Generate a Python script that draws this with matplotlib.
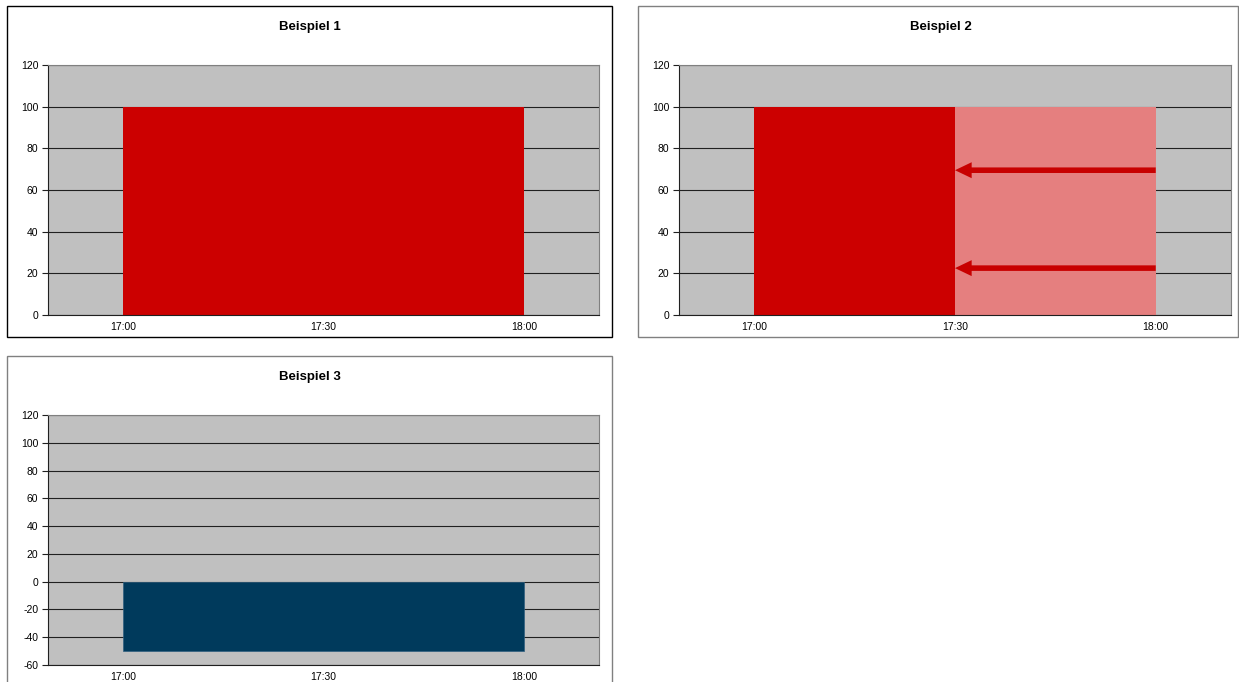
import matplotlib
matplotlib.use("Agg")
import matplotlib.pyplot as plt
from matplotlib.patches import Rectangle
from matplotlib.ticker import FixedLocator, FuncFormatter

# Data (time in decimal hours)
titles = ["Beispiel 1", "Beispiel 2", "Beispiel 3"]
x_ticks = [17.0, 17.5, 18.0]

# Beispiel 1: one block 17:00-18:00
b1_start = [17.0]
b1_width = [1.0]
b1_value = [100]

# Beispiel 2: block shrinks to 17:00-17:30, remainder shown pale
b2_start = [17.0, 17.5]
b2_width = [0.5, 0.5]
b2_value = [100, 100]
b2_arrow_y = [69.5, 22.5]
b2_arrow_from = 18.0
b2_arrow_to = 17.5

# Beispiel 3: negative block
b3_start = [17.0]
b3_width = [1.0]
b3_value = [-50]

plt.rcParams['font.family'] = ['Liberation Sans', 'DejaVu Sans']
plt.rcParams['axes.unicode_minus'] = False

W, H = 1239, 682
fig = plt.figure(figsize=(W / 100, H / 100), dpi=100)


def fx(px):
    return px / W


def fy(py):
    return 1 - py / H


def frame(x0, y0, x1, y1, color):
    fig.patches.append(Rectangle((fx(x0), fy(y1)), fx(x1 - x0), (y1 - y0) / H,
                                 transform=fig.transFigure, fill=False,
                                 edgecolor=color, linewidth=1.0, zorder=0))


def make_axes(x0, y0, x1, y1, ylim, ystep):
    ax = fig.add_axes([fx(x0), fy(y1), fx(x1 - x0), (y1 - y0) / H])
    ax.set_facecolor('#C0C0C0')
    ax.set_xlim(16.8125, 18.1875)
    ax.set_ylim(*ylim)
    ax.yaxis.set_major_locator(FixedLocator(list(range(ylim[0], ylim[1] + 1, ystep))))
    ax.xaxis.set_major_locator(FixedLocator(x_ticks))
    ax.xaxis.set_major_formatter(FuncFormatter(
        lambda v, p: f"{int(v):02d}:{int(round((v % 1) * 60)):02d}"))
    ax.grid(axis='y', color='#202020', linewidth=0.8)
    ax.set_axisbelow(True)
    ax.tick_params(axis='y', length=4, width=0.8, color='#202020',
                   labelsize=7.5, pad=3)
    ax.tick_params(axis='x', length=0, labelsize=7.5, pad=5)
    for s in ['top', 'right']:
        ax.spines[s].set_color('#808080')
    for s in ['left', 'bottom']:
        ax.spines[s].set_color('#202020')
    for s in ax.spines.values():
        s.set_linewidth(0.8)
    return ax


# Panel frames and titles
frame(7, 6, 612, 337, '#000000')
frame(638, 6, 1238, 337, '#808080')
frame(7, 356, 612, 690, '#808080')
fig.text(fx(310), fy(27), titles[0], ha='center', va='center',
         fontsize=9.5, fontweight='bold')
fig.text(fx(941), fy(27), titles[1], ha='center', va='center',
         fontsize=9.5, fontweight='bold')
fig.text(fx(310), fy(377), titles[2], ha='center', va='center',
         fontsize=9.5, fontweight='bold')

# Beispiel 1
ax1 = make_axes(48, 65, 599, 315, (0, 120), 20)
ax1.bar(b1_start, b1_value, width=b1_width, align='edge', color='#CC0000',
        linewidth=0)

# Beispiel 2
ax2 = make_axes(679, 65, 1231, 315, (0, 120), 20)
ax2.bar(b2_start, b2_value, width=b2_width, align='edge',
        color=['#CC0000', '#E57F7F'], linewidth=0)
for yv in b2_arrow_y:
    ax2.annotate('', xy=(b2_arrow_to, yv), xytext=(b2_arrow_from, yv),
                 arrowprops=dict(arrowstyle='simple,tail_width=0.4,head_width=1.15,head_length=1.2',
                                 mutation_scale=10, facecolor='#C80000',
                                 edgecolor='none', lw=0,
                                 shrinkA=0, shrinkB=0))

# Beispiel 3
ax3 = make_axes(48, 415, 599, 665, (-60, 120), 20)
ax3.bar(b3_start, b3_value, width=b3_width, align='edge', color='#003A5C',
        edgecolor='#2F5F7F', linewidth=0.5)

fig.savefig('out.png', dpi=100)
